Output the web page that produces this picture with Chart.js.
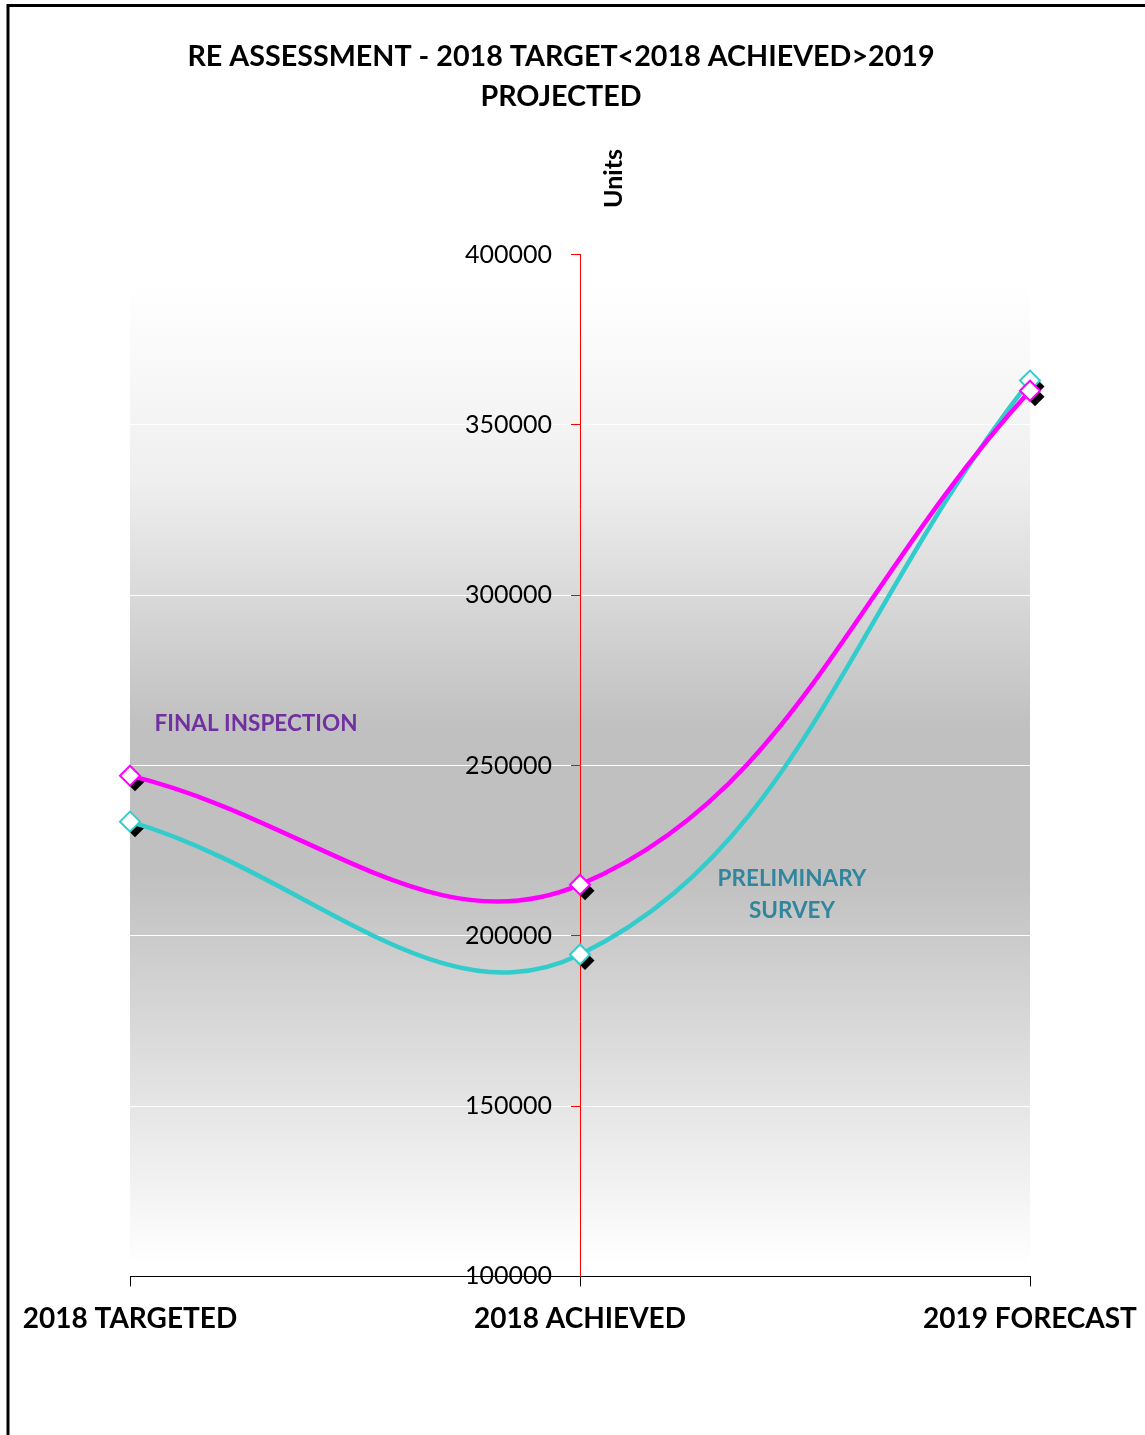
<!DOCTYPE html>
<html>
<head>
<meta charset="utf-8">
<script src="https://cdn.jsdelivr.net/npm/chart.js@4.4.1/dist/chart.umd.min.js"></script>
<style>
  body { margin: 0; background: #fff; }
</style>
</head>
<body>
<canvas id="reChart" width="1145" height="1435"></canvas>
<script>
const categories = ['2018 TARGETED', '2018 ACHIEVED', '2019 FORECAST'];
const seriesNames = ['FINAL INSPECTION', 'PRELIMINARY SURVEY'];
const finalInspection = [247000, 215000, 360000];
const preliminarySurvey = [233500, 194500, 363000];
const yTicks = [100000, 150000, 200000, 250000, 300000, 350000, 400000];

const FONT = 'Lato, "Open Sans", sans-serif';
const AXIS_RED = '#ff0000';

// frame + plot area gradient
const backdrop = {
  id: 'backdrop',
  afterLayout(chart) {
    // title in the original sits a little left of centre
    chart.titleBlock.left -= 19;
    chart.titleBlock.right -= 19;
  },
  beforeDraw(chart) {
    const { ctx, chartArea: a } = chart;
    ctx.save();
    const top = a.top + 29, bottom = a.bottom - 11;
    const g = ctx.createLinearGradient(0, top, 0, bottom);
    g.addColorStop(0, '#ffffff');
    g.addColorStop(0.2, '#efefef');
    g.addColorStop(0.45, '#c0c0c0');
    g.addColorStop(0.6, '#c0c0c0');
    g.addColorStop(0.83, '#e4e4e4');
    g.addColorStop(1, '#ffffff');
    ctx.fillStyle = g;
    ctx.fillRect(a.left, top, a.right - a.left, bottom - top);

    ctx.strokeStyle = '#000';
    ctx.lineWidth = 3;
    ctx.beginPath();
    ctx.moveTo(8, chart.height);
    ctx.lineTo(8, 5.5);
    ctx.lineTo(chart.width, 5.5);
    ctx.stroke();
    ctx.restore();
  }
};

// black drop shadow under each marker
const markerShadow = {
  id: 'markerShadow',
  beforeDatasetsDraw(chart) {
    const ctx = chart.ctx;
    const r = 9.5;
    ctx.save();
    ctx.fillStyle = '#000';
    chart.data.datasets.forEach((ds, i) => {
      chart.getDatasetMeta(i).data.forEach(pt => {
        const x = pt.x + 5, y = pt.y + 6;
        ctx.beginPath();
        ctx.moveTo(x, y - r);
        ctx.lineTo(x + r, y);
        ctx.lineTo(x, y + r);
        ctx.lineTo(x - r, y);
        ctx.closePath();
        ctx.fill();
      });
    });
    ctx.restore();
  }
};

// series names in the plot, and the rotated axis title above the axis
const seriesLabels = {
  id: 'seriesLabels',
  afterDatasetsDraw(chart) {
    const ctx = chart.ctx;
    const p0 = chart.getDatasetMeta(0).data[0];
    const p1 = chart.getDatasetMeta(1).data[1];
    ctx.save();
    ctx.font = 'bold 22.5px ' + FONT;
    ctx.textAlign = 'center';
    ctx.textBaseline = 'middle';
    ctx.fillStyle = '#7030a0';
    ctx.fillText(seriesNames[0], p0.x + 126, p0.y - 52);
    ctx.fillStyle = '#31859c';
    const words = seriesNames[1].split(' ');
    ctx.fillText(words[0], p1.x + 212, p1.y - 76);
    ctx.fillText(words[1], p1.x + 212, p1.y - 44);

    ctx.font = 'bold 25px ' + FONT;
    ctx.translate(chart.scales.x.getPixelForValue(1) + 34, chart.chartArea.top - 76);
    ctx.rotate(-Math.PI / 2);
    ctx.fillStyle = '#000';
    ctx.fillText('Units', 0, 0);
    ctx.restore();
  }
};

const valueAxis = {
  min: 100000,
  max: 400000,
  afterFit(scale) { scale.width = 0; },
  afterBuildTicks(scale) { scale.ticks = yTicks.map(v => ({ value: v })); },
};

new Chart(document.getElementById('reChart'), {
  type: 'line',
  data: {
    labels: categories,
    datasets: [
      {
        label: seriesNames[0],
        data: finalInspection,
        borderColor: '#ff00ff',
        borderWidth: 4.5,
        tension: 0.4,
        pointStyle: 'rectRot',
        pointRadius: 10,
        pointBorderWidth: 2,
        pointBackgroundColor: '#ffffff',
        pointBorderColor: '#ff00ff',
      },
      {
        label: seriesNames[1],
        data: preliminarySurvey,
        borderColor: '#33cccc',
        borderWidth: 4.5,
        tension: 0.4,
        pointStyle: 'rectRot',
        pointRadius: 10,
        pointBorderWidth: 2,
        pointBackgroundColor: '#ffffff',
        pointBorderColor: '#33cccc',
      },
    ],
  },
  options: {
    responsive: false,
    animation: false,
    layout: { padding: { left: 130, right: 115, top: 0, bottom: 83 } },
    plugins: {
      legend: { display: false },
      tooltip: { enabled: false },
      title: {
        display: true,
        text: ['RE ASSESSMENT - 2018 TARGET<2018 ACHIEVED>2019', 'PROJECTED'],
        color: '#000',
        font: { family: FONT, size: 28.7, weight: 'bold', lineHeight: 1.42 },
        padding: { top: 36, bottom: 137 },
      },
    },
    scales: {
      x: {
        offset: false,
        grid: { drawOnChartArea: false, color: '#000', tickColor: '#000', tickLength: 10 },
        border: { color: '#000', width: 1 },
        ticks: {
          color: '#000',
          padding: 6,
          maxRotation: 0,
          font: { family: FONT, size: 28, weight: 'bold', lineHeight: 1.914 },
        },
      },
      // the red value axis crossing at the middle category (line, grid, tick marks)
      y: {
        ...valueAxis,
        position: { x: 1 },
        grid: { color: '#ffffff', lineWidth: 1, tickColor: AXIS_RED, tickLength: 9 },
        border: { display: true, color: AXIS_RED, width: 1 },
        ticks: { display: false },
      },
      // its numbers, set a little left of the axis line
      yLabels: {
        ...valueAxis,
        axis: 'y',
        position: { x: 0.938 },
        grid: { display: false },
        border: { display: false },
        ticks: {
          color: '#000',
          callback: v => String(v),
          font: { family: FONT, size: 25 },
        },
      },
    },
  },
  plugins: [backdrop, markerShadow, seriesLabels],
});
</script>
</body>
</html>
